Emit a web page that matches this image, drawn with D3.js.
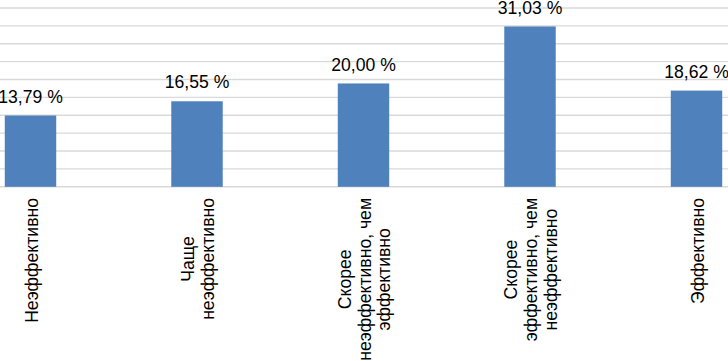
<!DOCTYPE html>
<html>
<head>
<meta charset="utf-8">
<script src="https://cdn.jsdelivr.net/npm/d3@7"></script>
<style>
  html, body { margin: 0; padding: 0; background: #fff; }
  svg { display: block; }
  text { font-family: "Liberation Sans", Arial, sans-serif; fill: #000; }
</style>
</head>
<body>
<svg id="chart" width="728" height="361"></svg>
<script>
// ---- data ----
const categories = [
  "Неэффективно",
  "Чаще неэффективно",
  "Скорее неэффективно, чем эффективно",
  "Скорее эффективно, чем неэффективно",
  "Эффективно"
];
const categoryLines = [
  ["Неэффективно"],
  ["Чаще", "неэффективно"],
  ["Скорее", "неэффективно, чем", "эффективно"],
  ["Скорее", "эффективно, чем", "неэффективно"],
  ["Эффективно"]
];
const values = [13.79, 16.55, 20.00, 31.03, 18.62];
const valueLabels = ["13,79 %", "16,55 %", "20,00 %", "31,03 %", "18,62 %"];
const gridMax = 34.6;
const gridCount = 10;

// ---- layout ----
const W = 728, H = 361;
const baseY = 186.8, topY = 8;
const fontSize = 17.6;
const lineH = 19.6;

const svg = d3.select("#chart");

const x = d3.scaleBand()
  .domain(categories)
  .range([-52.75, 779.75])
  .paddingInner(0.691)
  .paddingOuter(0.3455);

const y = d3.scaleLinear()
  .domain([0, gridMax])
  .range([baseY, topY]);

const gridVals = d3.range(gridCount + 1).map(i => i * gridMax / gridCount);

// gridlines
svg.append("g")
  .selectAll("line")
  .data(gridVals)
  .join("line")
  .attr("x1", 0)
  .attr("x2", W)
  .attr("y1", d => y(d))
  .attr("y2", d => y(d))
  .attr("stroke", "#d9d9d9")
  .attr("stroke-width", 1.4);

// bars
svg.append("g")
  .selectAll("rect")
  .data(values)
  .join("rect")
  .attr("x", (d, i) => x(categories[i]))
  .attr("width", x.bandwidth())
  .attr("y", d => y(d))
  .attr("height", d => y(0) - y(d))
  .attr("fill", "#4f81bd");

// value labels
svg.append("g")
  .selectAll("text")
  .data(values)
  .join("text")
  .attr("x", (d, i) => x(categories[i]) + x.bandwidth() / 2)
  .attr("y", d => y(d) - 12.8)
  .attr("text-anchor", "middle")
  .style("font-size", fontSize + "px")
  .text((d, i) => valueLabels[i]);

// category labels (rotated, centered lines, block top at labelTop)
const labelTop = 198;
const lg = svg.append("g");
categories.forEach((c, i) => {
  const lines = categoryLines[i];
  const cx = x(c) + x.bandwidth() / 2;
  const n = lines.length;
  const tmp = lg.append("text").style("font-size", fontSize + "px");
  let maxW = 0;
  lines.forEach(l => { tmp.text(l); maxW = Math.max(maxW, tmp.node().getComputedTextLength()); });
  tmp.remove();
  const cy = labelTop + maxW / 2;
  const g = lg.append("g").attr("transform", `translate(${cx},${cy}) rotate(-90)`);
  lines.forEach((l, j) => {
    g.append("text")
      .attr("x", 0)
      .attr("y", (j - (n - 1) / 2) * lineH + 7)
      .attr("text-anchor", "middle")
      .style("font-size", fontSize + "px")
      .text(l);
  });
});
</script>
</body>
</html>
